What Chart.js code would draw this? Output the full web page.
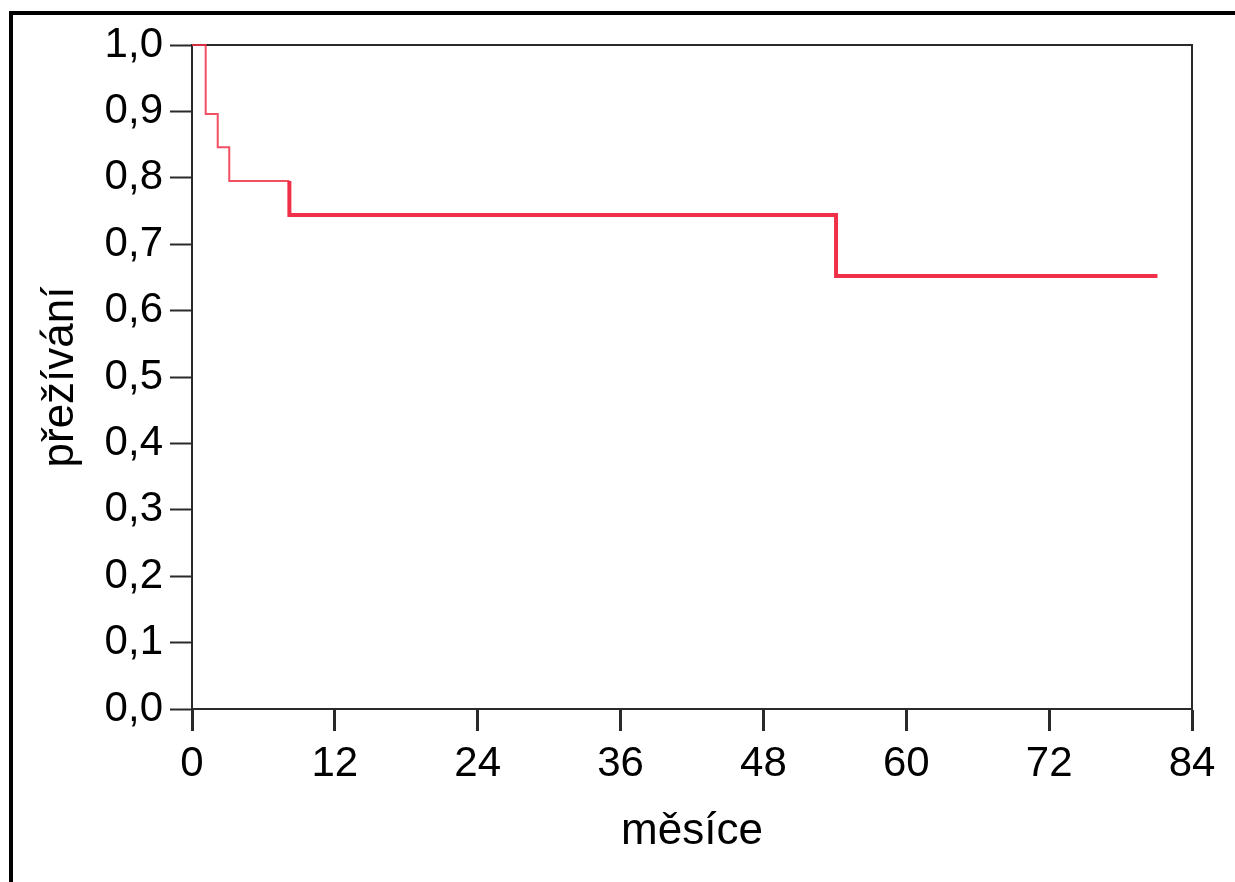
<!DOCTYPE html>
<html>
<head>
<meta charset="utf-8">
<script src="https://cdn.jsdelivr.net/npm/chart.js@4.4.0/dist/chart.umd.min.js"></script>
<style>
    body { margin: 0; background: #fff; overflow: hidden; }
    #wrap { position: relative; width: 1235px; height: 882px; }
    #frame {
        position: absolute; left: 9px; top: 11px; right: 0; bottom: 0;
        border-top: 4px solid #000; border-left: 4px solid #000;
    }
    #myKmChart { position: absolute; left: 0; top: 0; }
</style>
</head>
<body>
<div id="wrap">
    <div id="frame"></div>
    <canvas id="myKmChart" width="1235" height="882"></canvas>
</div>
<script>
// Kaplan-Meier: cas udalosti (mesice) a preziti
const months = [0, 1.15, 2.16, 3.13, 8.18, 54.1, 81.1];
const survival = [1.0, 0.896, 0.846, 0.795, 0.744, 0.652, 0.652];
const xTicks = [0, 12, 24, 36, 48, 60, 72, 84];
const yTicks = [0, 0.1, 0.2, 0.3, 0.4, 0.5, 0.6, 0.7, 0.8, 0.9, 1.0];

const points = months.map((m, i) => ({ x: m, y: survival[i] }));
// first part drawn thin, from the drop at ~8 months thick
const thinPart = points.slice(0, 4).concat([{ x: months[4], y: survival[3] }]);
const thickPart = [{ x: months[4], y: survival[3] }].concat(points.slice(4));

const axisColor = "#2a2a2a";

/*===== top and right frame lines (under the curve) =====*/
const boxLines = {
    id: "boxLines",
    beforeDatasetsDraw(chart) {
        const ctx = chart.ctx, a = chart.chartArea;
        ctx.save();
        ctx.strokeStyle = axisColor;
        ctx.lineWidth = 2;
        ctx.beginPath();
        ctx.moveTo(a.left, a.top);
        ctx.lineTo(a.right, a.top);
        ctx.lineTo(a.right, a.bottom);
        ctx.stroke();
        ctx.restore();
    }
};

var ctx = document.getElementById("myKmChart").getContext("2d");
var myChart = new Chart(ctx, {
    type: "line",
    data: {
        datasets: [
            {
                data: thinPart,
                stepped: "before",
                borderColor: "rgba(240, 48, 72, 0.85)",
                borderWidth: 2,
                pointRadius: 0,
                fill: false,
                clip: 4,
            },
            {
                data: thickPart,
                stepped: "before",
                borderColor: "rgb(240, 48, 72)",
                borderWidth: 4,
                pointRadius: 0,
                fill: false,
            },
        ],
    },
    options: {
        responsive: false,
        animation: false,
        devicePixelRatio: 1,
        layout: { padding: { left: 14, top: 45, right: 43, bottom: 0 } },
        plugins: { legend: { display: false }, tooltip: { enabled: false } },
        scales: {
            x: {
                type: "linear",
                min: 0,
                max: 84,
                afterBuildTicks: (s) => { s.ticks = xTicks.map((v) => ({ value: v })); },
                afterFit: (s) => { s.height = 173; },
                grid: {
                    drawOnChartArea: false,
                    tickLength: 22,
                    tickWidth: 3,
                    color: axisColor,
                },
                border: { color: axisColor, width: 2 },
                ticks: {
                    color: "#000",
                    padding: 8,
                    maxRotation: 0,
                    font: { family: "Liberation Sans, Arial", size: 42 },
                },
                title: {
                    display: true,
                    text: "měsíce",
                    color: "#000",
                    padding: { top: 0, bottom: 24 },
                    font: { family: "Liberation Sans, Arial", size: 44 },
                },
            },
            y: {
                min: 0,
                max: 1,
                afterBuildTicks: (s) => { s.ticks = yTicks.map((v) => ({ value: v })); },
                afterFit: (s) => { s.width = 178; },
                grid: {
                    drawOnChartArea: false,
                    tickLength: 22,
                    tickWidth: 2,
                    color: axisColor,
                },
                border: { color: axisColor, width: 2 },
                ticks: {
                    color: "#000",
                    padding: 7,
                    font: { family: "Liberation Sans, Arial", size: 42 },
                    callback: (v) => v.toFixed(1).replace(".", ","),
                },
                title: {
                    display: true,
                    text: "přežívání",
                    color: "#000",
                    padding: { top: 20, bottom: 0 },
                    font: { family: "Liberation Sans, Arial", size: 44 },
                },
            },
        },
    },
    plugins: [boxLines],
});
</script>
</body>
</html>
